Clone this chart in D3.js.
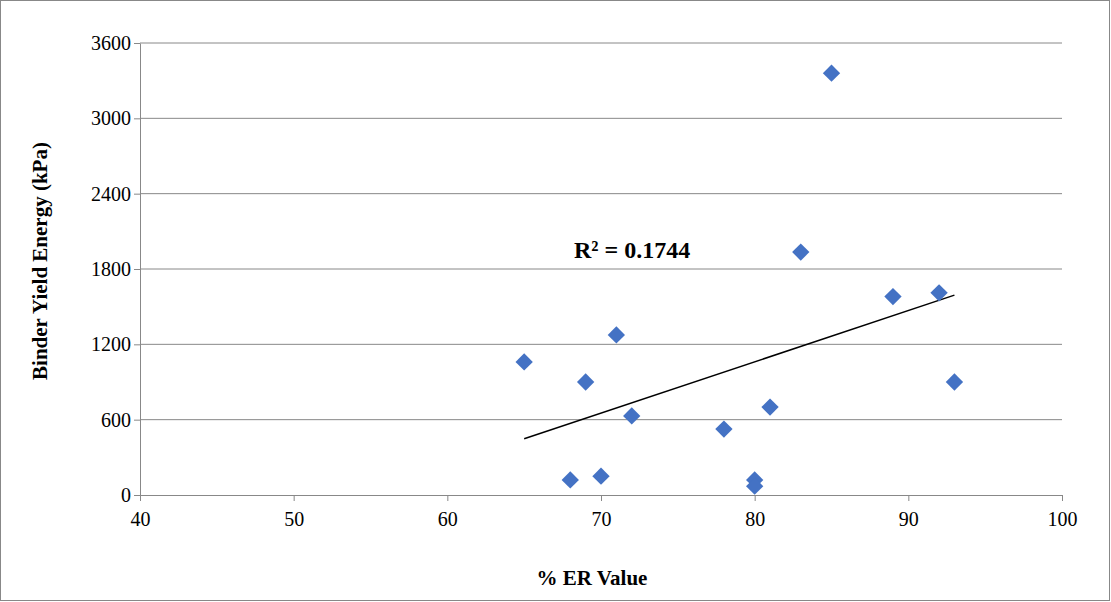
<!DOCTYPE html><html><head><meta charset="utf-8"><script src="https://cdn.jsdelivr.net/npm/d3@7"></script>
<style>body{margin:0;background:#fff}text{font-family:"Liberation Serif","Times New Roman",serif}</style></head><body><svg id="c" width="1111" height="602"></svg>
<script>
const xVals=[65,68,70,69,71,72,78,80,80,81,83,85,89,92,93];
const yVals=[1060,120,150,900,1275,630,525,120,70,700,1935,3360,1580,1610,900];
const xTicks=[40,50,60,70,80,90,100];
const yTicks=[0,600,1200,1800,2400,3000,3600];
const svg=d3.select("#c");
svg.append("rect").attr("x",0.5).attr("y",0.5).attr("width",1109).attr("height",600).attr("fill","#fff").attr("stroke","#888");
const x=d3.scaleLinear().domain([40,100]).range([140,1062]);
const y=d3.scaleLinear().domain([0,3600]).range([495,43]);
svg.selectAll("line.g").data(yTicks.slice(1)).join("line").attr("x1",140).attr("x2",1062).attr("y1",d=>y(d)).attr("y2",d=>y(d)).attr("stroke","#888");
const xa=svg.append("g").attr("transform","translate(0,495)").call(d3.axisBottom(x).tickValues(xTicks).tickFormat(d3.format("d")).tickSize(6).tickSizeOuter(0));
const ya=svg.append("g").attr("transform","translate(140,0)").call(d3.axisLeft(y).tickValues(yTicks).tickFormat(d3.format("d")).tickSize(6).tickSizeOuter(0));
[xa,ya].forEach(a=>{a.selectAll("path,line").attr("stroke","#888");a.selectAll("text").attr("font-size",20).attr("fill","#000").attr("font-family","Liberation Serif");});
xa.selectAll("text").attr("dy","1.1em");
const n=xVals.length,mx=d3.mean(xVals),my=d3.mean(yVals);
let sxy=0,sxx=0;xVals.forEach((v,i)=>{sxy+=(v-mx)*(yVals[i]-my);sxx+=(v-mx)**2;});
const b=sxy/sxx,a0=my-b*mx;
const x0=d3.min(xVals),x1=d3.max(xVals);
svg.append("line").attr("x1",x(x0)).attr("x2",x(x1)).attr("y1",y(a0+b*x0)).attr("y2",y(a0+b*x1)).attr("stroke","#000").attr("stroke-width",1.5);
const sym=d3.symbol().type(d3.symbolSquare).size(150);
svg.selectAll("path.p").data(xVals).join("path").attr("d",sym).attr("transform",(d,i)=>`translate(${x(d)},${y(yVals[i])}) rotate(45)`).attr("fill","#4472C4");
svg.append("text").attr("x",574).attr("y",258).attr("font-size",24).attr("font-weight","bold").text("R² = 0.1744");
svg.append("text").attr("x",592).attr("y",585).attr("text-anchor","middle").attr("font-size",21).attr("font-weight","bold").text("% ER Value");
svg.append("text").attr("transform","translate(47,261) rotate(-90)").attr("text-anchor","middle").attr("font-size",21).attr("font-weight","bold").text("Binder Yield Energy (kPa)");
</script></body></html>
